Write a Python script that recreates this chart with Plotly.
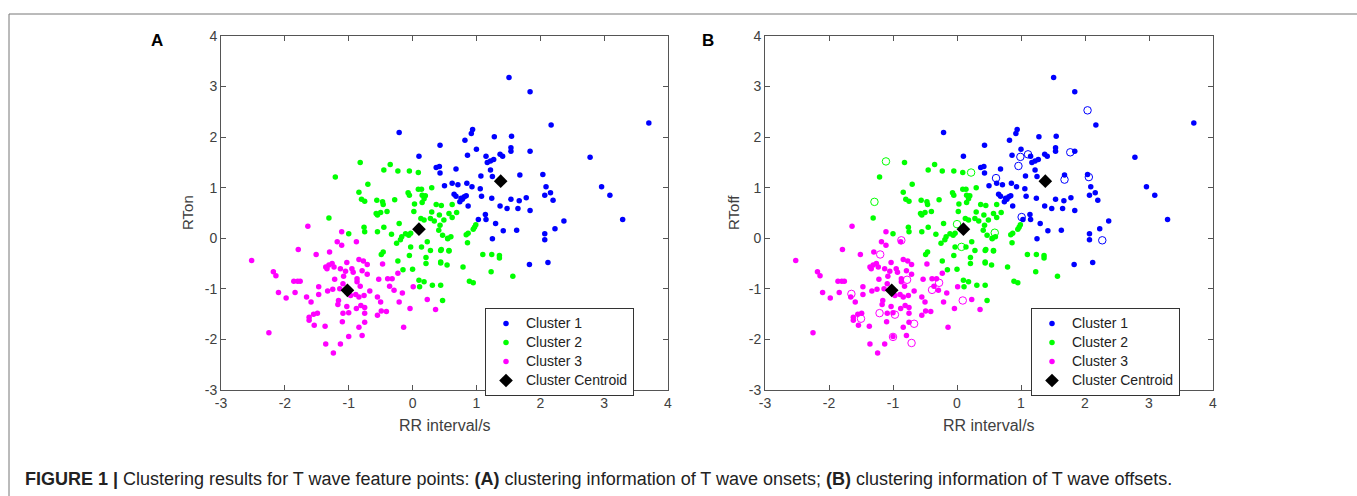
import plotly.graph_objects as go

# ---------------- data ----------------
c1_x = [-0.21, 0.43, 0.10, 0.37, 0.42, 0.43, 0.50, 1.51, 1.84, 2.17, 3.70, 0.94, 0.92, 0.82, 1.28, 1.55, 1.54, 1.54,
        1.84, 1.00, 0.86, 1.15, 1.37, 1.41, 1.17, 1.22, 1.27, 2.78, 1.22, 0.68, 1.07, 1.25, 1.68, 2.04, 0.62, 0.71,
        0.85, 0.93, 1.06, 2.09, 2.96, 0.65, 0.68, 0.76, 0.74, 0.81, 0.84, 0.78, 1.08, 0.87, 1.24, 1.37, 1.48, 1.54,
        1.67, 1.78, 1.65, 1.84, 2.07, 2.16, 2.20, 3.09, 1.14, 1.03, 1.15, 2.37, 3.29, 1.30, 1.42, 1.63, 1.25, 2.07,
        2.07, 2.23, 1.83, 2.12]
c1_y = [2.09, 1.84, 1.62, 1.40, 1.42, 1.29, 1.04, 3.18, 2.90, 2.24, 2.28, 2.15, 2.07, 1.94, 2.01, 2.02, 1.79, 1.72,
        1.72, 1.76, 1.64, 1.62, 1.66, 1.62, 1.50, 1.53, 1.56, 1.60, 1.35, 1.37, 1.23, 1.22, 1.25, 1.26, 1.09, 1.06,
        1.09, 1.02, 0.98, 1.02, 1.02, 0.87, 0.83, 0.79, 0.72, 0.82, 0.84, 0.77, 0.83, 0.64, 0.79, 0.64, 0.59, 0.77,
        0.74, 0.80, 0.59, 0.55, 0.85, 0.90, 0.75, 0.85, 0.47, 0.37, 0.37, 0.34, 0.37, 0.29, 0.15, 0.16, -0.01, 0.09,
        -0.03, 0.19, -0.52, -0.48]

c2_x = [-0.82, -0.35, -0.45, -0.23, -0.05, 0.09, -1.21, -0.70, -0.84, -0.80, -0.75, -0.56, -0.47, -0.46, -0.28,
        -0.07, -0.05, 0.09, 0.14, 0.15, 0.20, 0.18, 0.30, 0.03, 0.15, 0.37, 0.45, 0.02, 0.30, 0.42, -0.55, -0.50,
        -0.40, -1.31, 0.62, 0.69, 0.62, 0.84, 0.87, 0.95, 0.99, 0.97, 0.86, 0.60, 0.55, 0.45, 0.57, 0.44, 0.79,
        1.10, 1.24, 1.36, 1.36, 1.23, 0.89, 0.95, 1.57, 0.44, 0.47, -1.00, -0.76, -0.75, -0.57, -0.55, -0.45,
        -0.33, -0.21, -0.17, -0.19, -0.11, -0.06, -0.03, -0.25, -0.03, -0.49, -0.46, -0.23, -0.05, -0.15, 0.00,
        0.10, 0.18, 0.11, 0.31, 0.13, 0.18, 0.28, 0.34, 0.49, 0.57, 0.43, 0.41, 0.47, 0.55, 0.23, 0.14, 0.28,
        0.44, 0.57, 0.21, 0.21, 0.44, 0.54]
c2_y = [1.50, 1.46, 1.35, 1.33, 1.33, 1.30, 1.21, 1.07, 0.91, 0.77, 0.73, 0.75, 0.72, 0.67, 0.76, 0.90, 0.85, 0.97,
        0.97, 0.85, 0.84, 0.78, 1.00, 0.68, 0.71, 0.67, 0.65, 0.53, 0.52, 0.46, 0.46, 0.51, 0.53, 0.40, 0.67, 0.51,
        0.41, 0.07, 0.10, 0.18, 0.27, 0.22, -0.09, 0.03, 0.00, -0.22, -0.25, -0.47, -0.57, -0.32, -0.32, -0.34,
        -0.39, -0.66, -0.85, -0.88, -0.75, -0.93, -1.23, 0.09, 0.22, 0.13, 0.49, 0.13, 0.22, 0.08, 0.29, 0.03, -0.03,
        0.09, 0.06, 0.10, -0.10, -0.17, -0.32, -0.27, -0.45, -0.34, -0.62, -0.61, -0.83, -0.86, -0.96, -0.93, 0.39,
        0.36, 0.39, 0.34, 0.36, 0.49, 0.26, 0.16, 0.06, -0.01, -0.07, -0.17, -0.24, -0.24, -0.24, -0.38, -0.50,
        -0.49, -0.53]

c3_x = [-1.64, -1.11, -2.52, -1.79, -1.51, -1.30, -1.18, -1.11, -0.88, -1.03, -1.36, -1.31, -1.34, -1.26, -1.23,
        -1.13, -1.05, -0.95, -0.84, -0.77, -0.71, -0.93, -0.79, -0.71, -1.08, -0.87, -0.87, -0.53, -0.39, -0.32,
        -0.23, -0.47, -1.86, -1.80, -1.76, -2.18, -2.14, -2.10, -1.98, -1.84, -1.66, -1.59, -1.47, -1.47, -1.33,
        -1.25, -1.22, -1.14, -1.09, -0.97, -0.89, -0.84, -0.76, -0.67, -0.82, -1.16, -1.17, -1.03, -1.09, -1.00,
        -0.88, -0.81, -0.75, -0.75, -0.55, -0.49, -0.50, -0.55, -0.41, -0.29, -0.36, -0.21, -0.16, -0.04, 0.01,
        0.23, 0.36, -0.14, -1.62, -1.62, -1.55, -1.49, -1.54, -1.37, -1.10, -0.84, -0.75, -1.00, -0.79, -1.36,
        -1.13, -1.24, -2.25]
c3_y = [0.24, 0.13, -0.44, -0.22, -0.32, -0.27, -0.07, -0.14, -0.07, -0.48, -0.57, -0.53, -0.60, -0.50, -0.57,
        -0.60, -0.65, -0.60, -0.42, -0.45, -0.52, -0.67, -0.64, -0.71, -0.75, -0.80, -0.86, -0.81, -0.80, -0.80,
        -0.69, -0.51, -0.85, -0.85, -0.85, -0.66, -0.74, -1.07, -1.18, -1.07, -1.16, -1.26, -0.96, -1.11, -1.04,
        -1.01, -0.81, -1.00, -0.90, -1.13, -1.11, -1.16, -1.13, -1.04, -0.95, -1.23, -1.31, -1.35, -1.48, -1.47,
        -1.39, -1.33, -1.37, -1.48, -1.52, -1.44, -1.26, -1.16, -1.45, -1.03, -0.95, -1.26, -1.08, -1.39, -0.96,
        -1.21, -1.41, -1.76, -1.56, -1.62, -1.50, -1.48, -1.72, -1.74, -1.65, -1.76, -1.66, -1.94, -1.92, -2.09,
        -2.09, -2.27, -1.87]

cent_x = [1.38, 0.10, -1.02]
cent_y = [1.13, 0.18, -1.03]

# hollow (offset-only) points shown in panel B
h1_x = [2.04, 1.77, 0.99, 1.11, 0.96, 0.61, 1.68, 2.06, 1.01, 2.27]
h1_y = [2.53, 1.70, 1.61, 1.66, 1.43, 1.19, 1.16, 1.21, 0.42, -0.04]
h2_x = [-1.11, -1.29, 0.22, 0.00, 0.07, 0.59]
h2_y = [1.52, 0.72, 1.30, 0.28, -0.17, 0.11]
h3_x = [-0.87, -1.20, -0.78, -1.65, -0.39, -0.28, -1.50, -1.21, -0.97, -0.67, -1.00, -0.71, 0.09]
h3_y = [-0.04, -0.32, -0.82, -1.10, -1.02, -0.88, -1.59, -1.48, -1.51, -1.69, -1.95, -2.07, -1.23]

labels = ["Cluster 1", "Cluster 2", "Cluster 3", "Cluster Centroid"]
colors = ["#0000FF", "#00FF00", "#FF00FF"]
ticks = [-3, -2, -1, 0, 1, 2, 3, 4]

# ---------------- figure ----------------
W, H = 1357, 496
FONT = "Liberation Sans, Arial, sans-serif"
fig = go.Figure()

clusters = [(c1_x, c1_y), (c2_x, c2_y), (c3_x, c3_y)]
hollow = [(h1_x, h1_y), (h2_x, h2_y), (h3_x, h3_y)]

def leg_name(s):
    return '<span style="font-size:14px">' + s + '</span>'

for panel, (xa, ya, leg) in enumerate([("x", "y", "legend"), ("x2", "y2", "legend2")]):
    for i, (cx, cy) in enumerate(clusters):
        fig.add_trace(go.Scatter(x=cx, y=cy, mode="markers", name=leg_name(labels[i]), xaxis=xa, yaxis=ya,
                                 legend=leg, marker=dict(color=colors[i], size=5.5, symbol="circle")))
    if panel == 1:
        for i, (hx, hy) in enumerate(hollow):
            fig.add_trace(go.Scatter(x=hx, y=hy, mode="markers", showlegend=False, xaxis=xa, yaxis=ya,
                                     marker=dict(color=colors[i], size=7.5, symbol="circle-open",
                                                 line=dict(width=1, color=colors[i]))))
    fig.add_trace(go.Scatter(x=cent_x, y=cent_y, mode="markers", name=leg_name(labels[3]), xaxis=xa, yaxis=ya,
                             legend=leg, marker=dict(color="black", size=10.5, symbol="diamond")))

def px_x(p):
    return p / W

def px_y(p):
    return 1 - p / H

axis_common = dict(range=[-3, 4], tickmode="array", tickvals=ticks, ticktext=[str(t) for t in ticks],
                   ticks="inside", ticklen=5, tickcolor="#555", showline=True, linecolor="#555",
                   linewidth=1, mirror="ticks", showgrid=False, zeroline=False, automargin=False,
                   tickfont=dict(family=FONT, size=14, color="#404040"))

leg_common = dict(xanchor="left", yanchor="top", bgcolor="white", bordercolor="#333", borderwidth=1,
                  font=dict(family=FONT, size=12, color="#222"), tracegroupgap=0, itemsizing="trace")

fig.update_layout(
    width=W, height=H, margin=dict(l=0, r=0, t=0, b=0, pad=0, autoexpand=False),
    paper_bgcolor="white", plot_bgcolor="white",
    xaxis=dict(domain=[px_x(221), px_x(668)], anchor="y", **axis_common),
    yaxis=dict(domain=[px_y(390), px_y(36)], anchor="x", **axis_common),
    xaxis2=dict(domain=[px_x(765), px_x(1213)], anchor="y2", **axis_common),
    yaxis2=dict(domain=[px_y(390), px_y(36)], anchor="x2", **axis_common),
    legend=dict(x=px_x(485), y=px_y(308), **leg_common),
    legend2=dict(x=px_x(1031), y=px_y(308), **leg_common),
    showlegend=True,
)

def text_ann(text, x, y, size, color="#404040", angle=0, xanchor="center"):
    return dict(text=text, x=px_x(x), y=px_y(y), xref="paper", yref="paper", showarrow=False,
                xanchor=xanchor, yanchor="middle", textangle=angle,
                font=dict(family=FONT, size=size, color=color))

ann = [
    text_ann("<b>A</b>", 157, 41, 17, "black"),
    text_ann("<b>B</b>", 708, 41, 17, "black"),
    text_ann("RTon", 187, 213, 15, angle=-90),
    text_ann("RToff", 733, 213, 15, angle=-90),
    text_ann("RR interval/s", 445, 425, 16),
    text_ann("RR interval/s", 989, 425, 16),
    text_ann("<b>FIGURE 1 |</b> Clustering results for T wave feature points: <b>(A)</b> clustering "
             "information of T wave onsets; <b>(B)</b> clustering information of T wave offsets.",
             23, 479, 18, color="#222", xanchor="left"),
]
fig.update_layout(annotations=ann)

fig.update_layout(shapes=[
    dict(type="line", xref="paper", yref="paper", x0=px_x(9), x1=1, y0=px_y(14), y1=px_y(14),
         line=dict(color="#777", width=1)),
    dict(type="line", xref="paper", yref="paper", x0=px_x(9), x1=px_x(9), y0=px_y(14), y1=0,
         line=dict(color="#777", width=1)),
])

fig.write_html("out.html", config={"displayModeBar": False},
               post_script="document.body.style.margin='0px';document.body.style.overflow='hidden';")
